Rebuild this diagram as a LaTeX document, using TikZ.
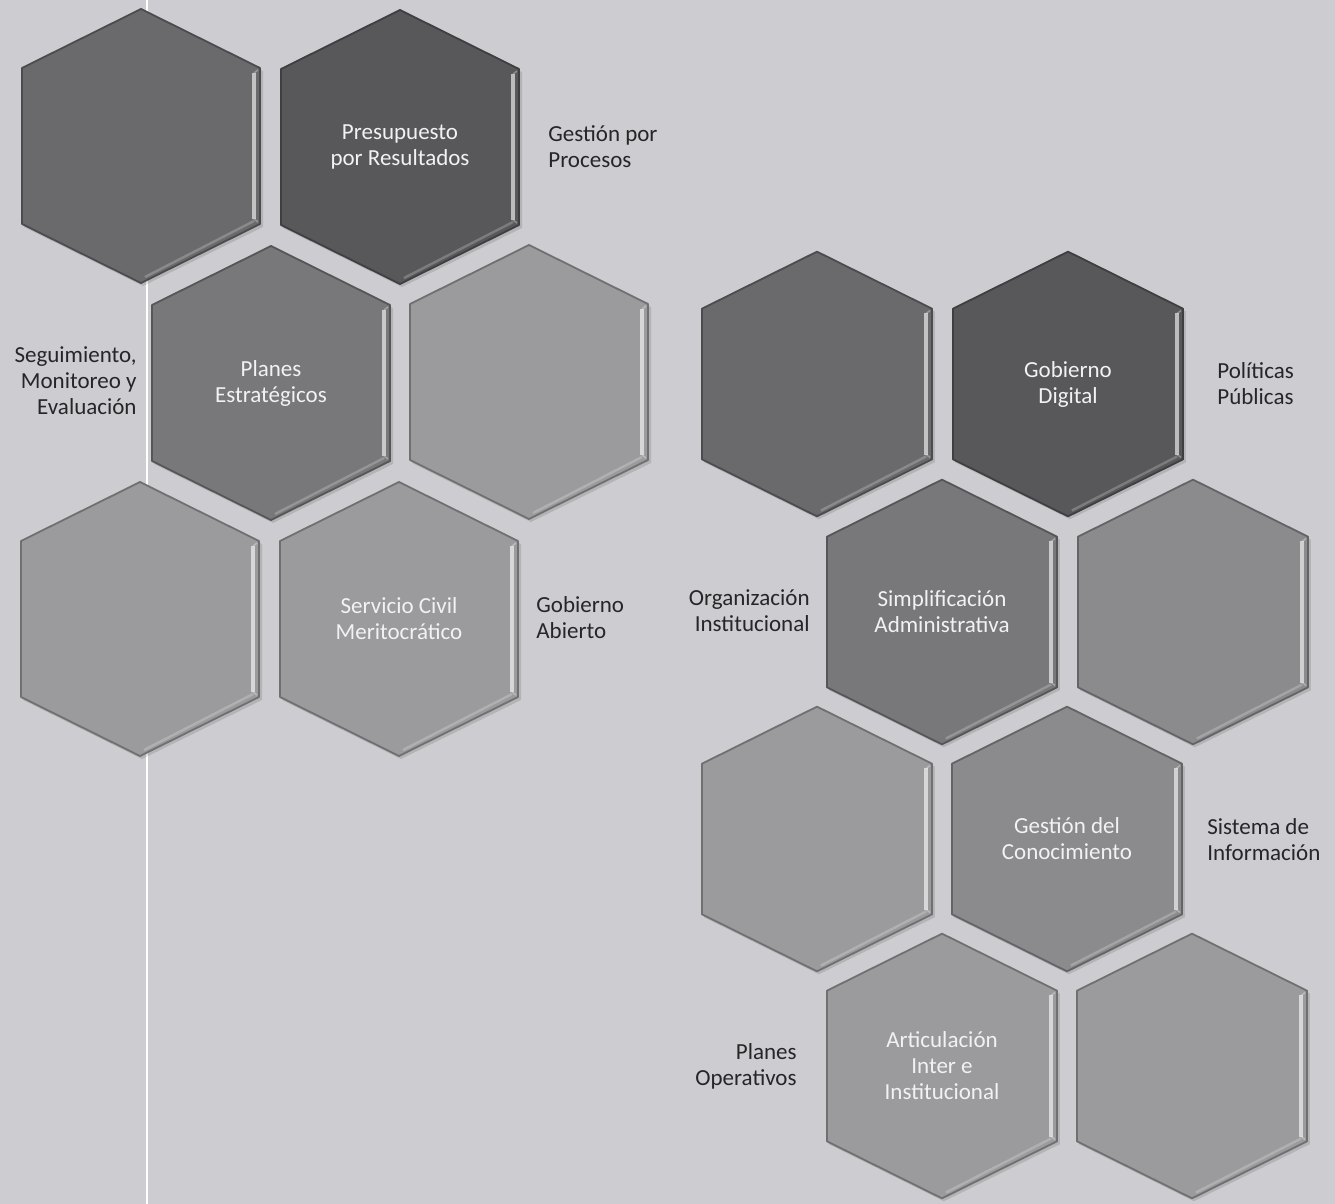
\documentclass[tikz,border=0pt]{standalone}
\usepackage{fontspec}
\setmainfont{Carlito}
\usepackage{tikz}
\usetikzlibrary{positioning}

\definecolor{bgpaper}{RGB}{205, 205, 209}
\definecolor{hexdeep}{RGB}{88, 88, 90}
\definecolor{hexdark}{RGB}{106, 106, 108}
\definecolor{hexmid}{RGB}{120, 120, 122}
\definecolor{hexsoft}{RGB}{139, 139, 141}
\definecolor{hexlight}{RGB}{155, 155, 157}
\definecolor{labelink}{RGB}{38, 38, 40}

\tikzset{
  hextext/.style={font=\fontsize{11.5}{13}\selectfont, text=white!90!gray, align=center, inner sep=0pt},
  sidetext/.style={font=\fontsize{11.5}{13}\selectfont, text=labelink, inner sep=0pt},
}

% one tile: name, centre, fill, size, text
\newcommand{\hexcell}[5]{%
  \begin{scope}[shift={#2}, scale=#4]
    \fill[black, opacity=0.12] (2,-134) -- (122,-75) -- (122,81) -- (2,140) -- (-117,81) -- (-117,-75) -- cycle;
    \draw[fill=#3, draw=#3!72!black, line width=0.9pt, line join=round] (0,-137) -- (119,-78) -- (119,78) -- (0,137) -- (-119,78) -- (-119,-78) -- cycle;
    \draw[white, opacity=0.22, line width=1.2pt] (4,131) -- (113,75);
    \draw[white, opacity=0.6, line width=2pt] (113,-73) -- (113,73);
    \draw[white, opacity=0.3, line width=0.8pt] (113,-73) -- (117,-76) (113,73) -- (117,76);
  \end{scope}
  \node[hextext] (#1) at #2 {#5};
}

\begin{document}
\begin{tikzpicture}[x=0.5pt, y=-0.5pt]
  \useasboundingbox (0,0) rectangle (1335,1204);
  \fill[bgpaper] (0,0) rectangle (1335,1204);
  \draw[white, line width=1.1pt] (147,0) -- (147,1204);

  % Left group
  \hexcell{tileA}{(141,146)}{hexdark}{1}{}
  \hexcell{presupuesto}{(400,147)}{hexdeep}{1}{Presupuesto\\por Resultados}
  \hexcell{planes}{(271,383)}{hexmid}{1}{Planes\\Estratégicos}
  \hexcell{tileB}{(529,382)}{hexlight}{1}{}
  \hexcell{tileC}{(140,619)}{hexlight}{1}{}
  \hexcell{servicio}{(399,619)}{hexlight}{1}{Servicio Civil\\Meritocrático}

  % Right group
  \hexcell{tileD}{(817,384)}{hexdark}{0.966}{}
  \hexcell{digital}{(1068,384)}{hexdeep}{0.966}{Gobierno\\Digital}
  \hexcell{simplificacion}{(942,612)}{hexmid}{0.966}{Simplificación\\Administrativa}
  \hexcell{tileE}{(1193,612)}{hexsoft}{0.966}{}
  \hexcell{tileF}{(817,839)}{hexlight}{0.966}{}
  \hexcell{conocimiento}{(1067,839)}{hexsoft}{0.966}{Gestión del\\Conocimiento}
  \hexcell{articulacion}{(942,1066)}{hexlight}{0.966}{Articulación\\Inter e\\Institucional}
  \hexcell{tileG}{(1192,1066)}{hexlight}{0.966}{}

  % Side labels
  \node[sidetext, anchor=west, align=left] (gestion) at (548,147) {Gestión por\\Procesos};
  \node[sidetext, anchor=east, align=right] (seguimiento) at (137,381) {Seguimiento,\\Monitoreo y\\Evaluación};
  \node[sidetext, anchor=west, align=left] (abierto) at (536,618) {Gobierno\\Abierto};
  \node[sidetext, anchor=west, align=left] (politicas) at (1217,384) {Políticas\\Públicas};
  \node[sidetext, anchor=east, align=right] (organizacion) at (810,611) {Organización\\Institucional};
  \node[sidetext, anchor=west, align=left] (sistema) at (1207,840) {Sistema de\\Información};
  \node[sidetext, anchor=east, align=right] (operativos) at (797,1066) {Planes\\Operativos};
\end{tikzpicture}
\end{document}
